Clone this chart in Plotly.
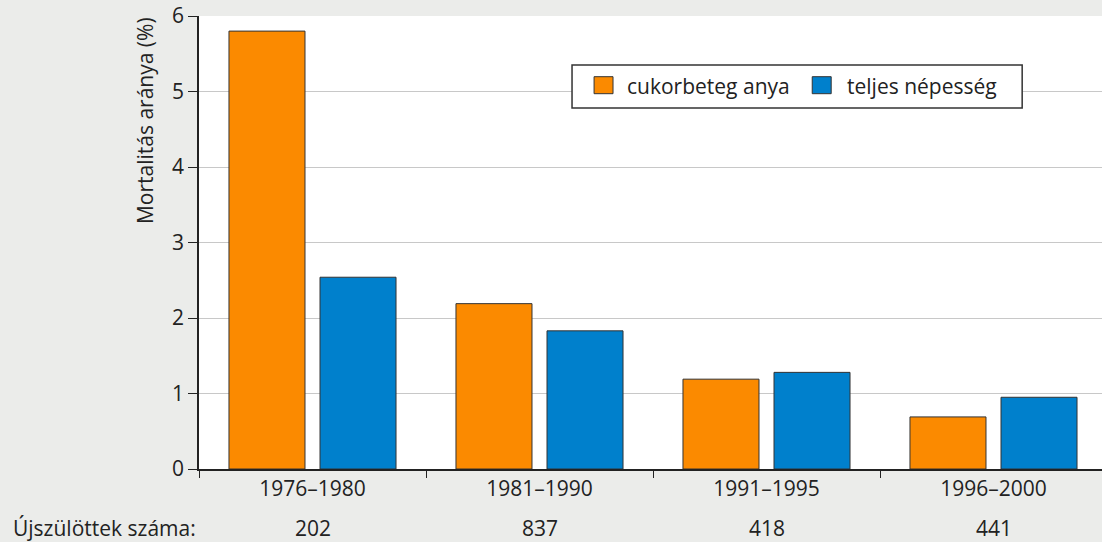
import plotly.graph_objects as go

categories = ["1976–1980", "1981–1990", "1991–1995", "1996–2000"]
diabetic_mother = [5.80, 2.19, 1.19, 0.69]
total_population = [2.54, 1.83, 1.28, 0.95]
newborn_counts = ["202", "837", "418", "441"]
series_names = ["cukorbeteg anya", "teljes népesség"]
series_colors = ["#FB8A00", "#0080CC"]
y_title = "Mortalitás aránya (%)"
count_label = "Újszülöttek száma:"

FONT = "Open Sans"
TXT = "#222222"
FS = 21

fig = go.Figure()
fig.add_trace(go.Bar(x=categories, y=diabetic_mother, name=series_names[0],
                     marker=dict(color=series_colors[0], line=dict(color="#333333", width=1))))
fig.add_trace(go.Bar(x=categories, y=total_population, name=series_names[1],
                     marker=dict(color=series_colors[1], line=dict(color="#333333", width=1))))

for c, n in zip(categories, newborn_counts):
    fig.add_annotation(x=c, xref="x", y=-0.13, yref="paper", text=n, showarrow=False,
                       font=dict(family=FONT, size=FS, color=TXT), yanchor="middle")

fig.add_annotation(x=0, xref="paper", xshift=-199 + 11, y=-0.13, yref="paper", text=count_label,
                   showarrow=False, xanchor="left", yanchor="middle",
                   font=dict(family=FONT, size=FS, color=TXT))

fig.add_annotation(x=0, xref="paper", xshift=-54, y=0.768, yref="paper", text=y_title,
                   showarrow=False, textangle=-90, xanchor="center", yanchor="middle",
                   font=dict(family=FONT, size=FS, color=TXT))

# manual legend
fig.add_shape(type="rect", xref="paper", yref="paper", x0=0.4131, x1=0.9116, y0=0.7969, y1=0.8918,
              fillcolor="white", line=dict(color="#333333", width=1.5), layer="above")
sq_x = [(0.4375, 0.4585), (0.6791, 0.7001)]
txt_x = [0.4718, 0.7150]
for (a, b), tx, name, col in zip(sq_x, txt_x, series_names, series_colors):
    fig.add_shape(type="rect", xref="paper", yref="paper", x0=a, x1=b, y0=0.8285, y1=0.8660,
                  fillcolor=col, line=dict(color="#333333", width=1), layer="above")
    fig.add_annotation(x=tx, xref="paper", y=0.8455, yref="paper", text=name, showarrow=False,
                       xanchor="left", yanchor="middle",
                       font=dict(family=FONT, size=FS, color=TXT))

fig.update_layout(
    width=1102, height=542,
    margin=dict(l=199, r=0, t=16, b=73),
    paper_bgcolor="#EBECEA", plot_bgcolor="white",
    barmode="group", bargap=0.198, bargroupgap=0.165,
    font=dict(family=FONT, size=FS, color=TXT),
    showlegend=False,
    xaxis=dict(range=[-0.5, -0.5 + 903 / 227], showline=True, linecolor="#222222", linewidth=1.5,
               ticks="outside", tickson="boundaries", ticklen=7, tickcolor="#222222",
               showgrid=False, tickfont=dict(family=FONT, size=FS, color=TXT)),
    yaxis=dict(range=[0, 6], dtick=1, showline=True, linecolor="#222222", linewidth=1.5,
               ticks="outside", ticklen=9, tickcolor="#222222", showgrid=True,
               gridcolor="#C8C8C8", gridwidth=1, zeroline=False,
               tickfont=dict(family=FONT, size=FS, color=TXT)),
)

fig.write_html("out.html", config={"displayModeBar": False},
               post_script="document.body.style.margin='0px';")
